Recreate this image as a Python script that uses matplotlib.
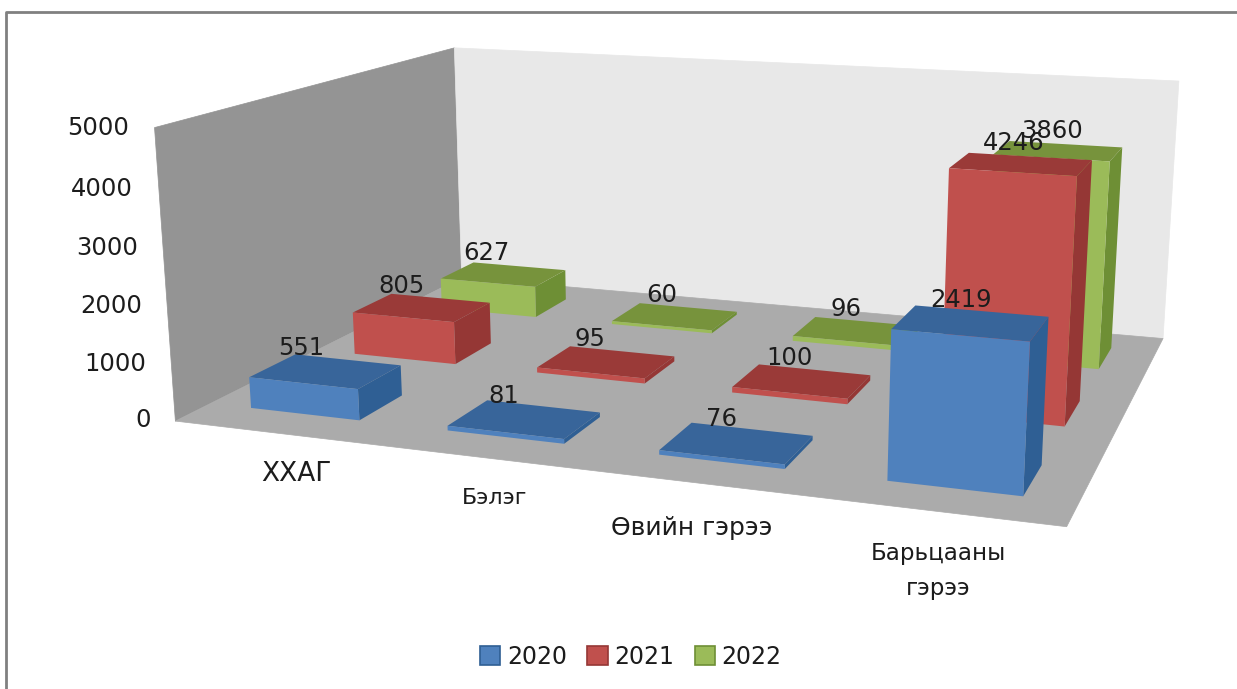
import numpy as np
import matplotlib
matplotlib.use('Agg')
import matplotlib.pyplot as plt
from matplotlib.lines import Line2D
from matplotlib.patches import Patch
from mpl_toolkits.mplot3d.art3d import Poly3DCollection

categories = ['ХХАГ', 'Бэлэг', 'Өвийн гэрээ', 'Барьцааны\nгэрээ']
years = ['2020', '2021', '2022']
values_2020 = [551, 81, 76, 2419]
values_2021 = [805, 95, 100, 4246]
values_2022 = [627, 60, 96, 3860]
series = [values_2020, values_2021, values_2022]
z_ticks = [0, 1000, 2000, 3000, 4000, 5000]

# front, top, right side
front_cols = ['#4F81BD', '#C0504D', '#9BBB59']
top_cols = ['#38659A', '#9A3A38', '#77933C']
side_cols = ['#2F5F94', '#953735', '#6E8F35']
text_col = '#1C1C1C'

W, H = 1237, 689
ZMAX = 5000.0
BAR_W = 0.56
BAR_D = 0.42
SLOT0 = 0.5
ROW0 = 0.29

# world corners of the chart box and where they sit in the picture
world = [(0, 0, 0), (4, 0, 0), (4, 3, 0), (0, 3, 0),
         (0, 0, ZMAX), (0, 3, ZMAX), (4, 3, ZMAX)]
image = [(176, 420), (1066, 527), (1163, 337), (460, 278),
         (153, 127), (455, 47), (1178, 81)]


def fit_projection(world, image):
    rows = []
    for (x, y, z), (u, v) in zip(world, image):
        v = H - v
        p = [x, y, z / ZMAX, 1]
        rows.append(p + [0, 0, 0, 0] + [-u * c for c in p])
        rows.append([0, 0, 0, 0] + p + [-v * c for c in p])
    vt = np.linalg.svd(np.array(rows, dtype=float))[2]
    P = vt[-1].reshape(3, 4)
    P = P / P[2, 3]
    P[:, 2] = P[:, 2] / ZMAX
    return np.array([P[0], P[1], [0, 1, 0, 0], P[2]])


M = fit_projection(world, image)


def label(x, y, z, s, ha):
    # flat text at the projected spot of a 3d point
    q = M @ np.array([x, y, z, 1.0])
    ax.text2D(q[0] / q[3], q[1] / q[3], s, transform=ax.transData, ha=ha, va='center',
              fontsize=17.5, color=text_col, zorder=50)


fig = plt.figure(figsize=(W / 100, H / 100), dpi=100)
# 3d axes are always square, so make it as wide as the figure
ax = fig.add_axes([0, (H - W) / 2 / H, 1, W / H], projection='3d', computed_zorder=False)
ax.set_axis_off()
ax.set_xticks([])
ax.set_yticks([])
ax.set_zticks([])
ax.get_proj = lambda: M

panes = [
    ([(0, 0, 0), (0, 3, 0), (0, 3, ZMAX), (0, 0, ZMAX)], '#949494'),
    ([(0, 3, 0), (4, 3, 0), (4, 3, ZMAX), (0, 3, ZMAX)], '#E8E8E8'),
    ([(0, 0, 0), (4, 0, 0), (4, 3, 0), (0, 3, 0)], '#ABABAB'),
]
for verts, col in panes:
    ax.add_collection3d(Poly3DCollection([verts], facecolors=col, edgecolors=col, linewidths=0.5, zorder=1))
ax.plot([0, 4], [0, 0], [0, 0], color='#808080', lw=1.2, zorder=1.5)

zo = 2
for j in [2, 1, 0]:
    for i in range(len(categories)):
        xc = SLOT0 + i
        # bottom, top, front, back, left, right
        cols = ['none', top_cols[j], front_cols[j], 'none', 'none', side_cols[j]]
        ax.bar3d(xc - BAR_W / 2, j + ROW0, 0, BAR_W, BAR_D, series[j][i],
                 color=cols, shade=False, linewidth=0, zorder=zo)
        zo += 1

for j in range(3):
    for i in range(len(categories)):
        v = series[j][i]
        label(SLOT0 + i, j + ROW0, v + 630 - 0.035 * v, str(v), 'center')

for t in z_ticks:
    label(-0.13, 0, t - 50, str(t), 'right')

cat_pos = [(296, 474), (495, 498), (692, 528), (938, 571)]
cat_size = [19, 16, 18, 16.6]
for name, (px, py), fs in zip(categories, cat_pos, cat_size):
    fig.text(px / W, 1 - py / H, name, ha='center', va='center', fontsize=fs,
             color=text_col, linespacing=1.65)

handles = [Patch(facecolor=c, edgecolor=s, linewidth=1.2) for c, s in zip(front_cols, side_cols)]
fig.legend(handles, years, loc='center', bbox_to_anchor=(631 / W, 1 - 657 / H), ncol=3, frameon=False,
           fontsize=17, handlelength=0.85, handleheight=0.85, handletextpad=0.3, columnspacing=0.85,
           labelcolor=text_col)

# outer frame of the screenshot
fig.add_artist(Line2D([6 / W, 6 / W, 1], [0, 1 - 12 / H, 1 - 12 / H], color='#808080', lw=2))

ax.viewLim.intervalx = (0, W)
ax.viewLim.intervaly = ((H - W) / 2, (H + W) / 2)

fig.savefig('out.png', dpi=100)
